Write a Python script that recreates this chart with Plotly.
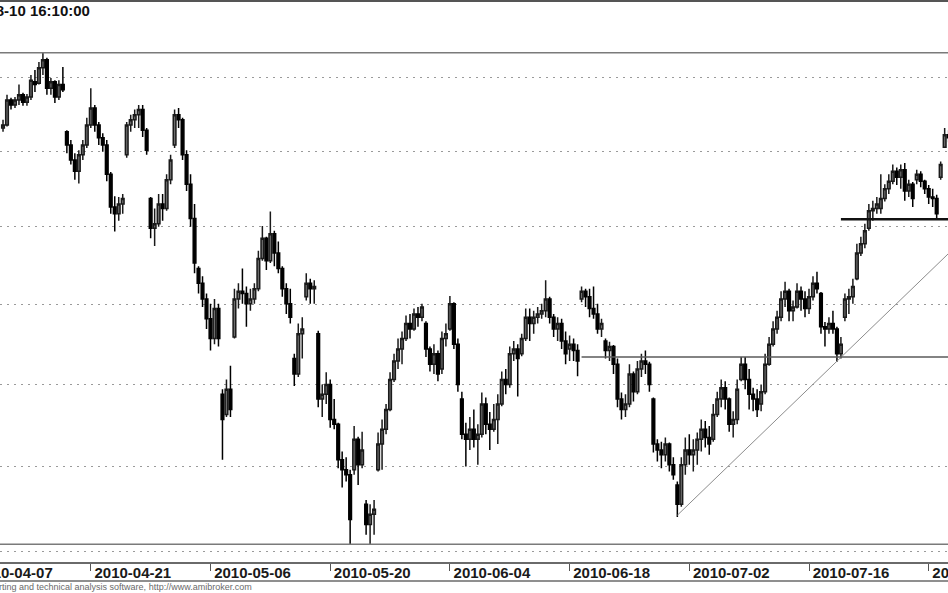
import math
import pandas as pd
import plotly.graph_objects as go

# ---- data -------------------------------------------------------------
# Warsaw trading days shown (holidays 2010-05-03 and 2010-06-03 excluded)
trading_days = [d.strftime("%Y-%m-%d") for d in pd.bdate_range(
    "2010-04-09", "2010-08-02", freq="C", holidays=["2010-05-03", "2010-06-03"])]
sessions = ["09:00", "11:30", "14:00"]
bar_times = [f"{d} {s}" for d in trading_days for s in sessions][2:]

opens = [39.31,
    39.35, 39.69, 39.62,  39.69, 39.76, 39.66,  39.73, 39.94, 39.92,  40.13, 40.24, 39.85,
    39.94, 39.73, 39.90,  39.26, 39.08, 38.88,  38.73, 38.95, 39.08,  39.35, 39.58, 39.35,
    39.18, 39.08, 38.69,  38.26, 38.17, 38.30,  38.95, 39.35, 39.42,  39.49, 39.56, 39.28,
    38.37, 37.98, 38.04,  38.30, 38.24, 38.62,  39.08, 39.49, 39.42,  38.95, 38.56, 38.11,
    37.46, 37.27, 37.07,  36.82, 36.57, 36.95,  35.88, 35.63, 35.94,  36.59, 37.07, 37.17,
    37.14, 37.01, 37.07,  37.20, 37.59, 37.85,  37.56, 37.91, 37.66,  37.46, 37.20, 37.01,
    36.32, 36.13, 36.63,  37.10, 37.27, 37.20,  36.63, 35.82, 35.88,  36.00, 35.57, 35.51,
    35.08, 34.96, 34.90,  34.96, 35.33, 35.02,  34.55, 34.31, 34.43,  34.96, 35.27, 35.45,
    35.69, 36.06, 36.29,  36.44, 36.57, 36.76,  36.69, 36.88, 36.84,  36.76, 36.44, 36.25,
    36.38, 36.19, 36.57,  36.69, 37.01, 36.50,  35.82, 35.39, 35.33,  35.45, 35.33, 35.39,
    35.76, 35.51, 35.45,  35.57, 35.76, 36.06,  36.00, 36.38, 36.44,  36.38, 36.57, 36.84,
    36.76, 36.84, 36.88,  36.92, 37.07, 36.84,  36.69, 36.76, 36.54,  36.44, 36.50, 36.42,
    37.07, 37.17, 37.10,  36.95, 36.88, 36.69,  36.54, 36.42, 36.47,  36.25, 35.82, 35.69,
    35.76, 36.13, 35.91,  36.19, 36.29, 36.25,  35.82, 35.27, 35.20,  35.14, 35.27, 35.02,
    34.78, 34.55, 35.02,  35.20, 35.14, 35.20,  35.33, 35.45, 35.35,  35.33, 35.63, 35.82,
    35.96, 35.82, 35.51,  35.57, 36.06, 36.25,  36.06, 35.88, 35.82,  35.76, 35.91, 36.25,
    36.50, 36.69, 36.84,  37.07, 37.17, 36.92,  36.97, 37.17, 37.07,  36.95, 37.10, 37.27,
    37.14, 36.72, 36.69,  36.76, 36.69, 36.38,  36.84, 37.07, 37.10,  37.33, 37.66, 37.78,
    37.98, 38.21, 38.24,  38.24, 38.37, 38.50,  38.60, 38.73, 38.65,  38.75, 38.47, 38.56,
    38.62, 38.69, 38.60,  38.50, 38.39, 38.37,  38.65, 39.05, 39.22]
highs = [39.42,
    39.76, 39.72, 39.73,  39.90, 39.79, 39.77,  40.03, 40.10, 40.21,  40.34, 40.27, 39.99,
    39.96, 39.96, 40.14,  39.28, 39.15, 38.97,  39.01, 39.15, 39.45,  39.85, 39.62, 39.39,
    39.24, 39.15, 38.72,  38.40, 38.39, 38.43,  39.39, 39.49, 39.56,  39.62, 39.62, 39.31,
    38.39, 38.24, 38.43,  38.43, 38.69, 38.95,  39.56, 39.58, 39.45,  39.01, 38.69, 38.30,
    37.49, 37.36, 37.14,  37.01, 37.07, 37.01,  35.94, 36.06, 36.23,  37.20, 37.27, 37.46,
    37.23, 37.20, 37.27,  37.69, 38.01, 37.87,  38.20, 37.95, 37.81,  37.49, 37.27, 37.20,
    36.38, 36.76, 36.84,  37.40, 37.33, 37.31,  36.67, 36.00, 36.15,  36.06, 35.82, 35.53,
    35.18, 35.11, 34.96,  35.49, 35.36, 35.42,  34.60, 34.55, 34.60,  35.41, 35.57, 35.76,
    36.15, 36.38, 36.57,  36.66, 36.86, 36.88,  36.95, 36.97, 37.01,  36.79, 36.47, 36.50,
    36.42, 36.66, 36.76,  37.11, 37.03, 36.57,  35.91, 35.53, 35.60,  35.69, 35.51, 35.90,
    35.84, 35.66, 35.76,  35.88, 36.16, 36.19,  36.47, 36.54, 36.50,  36.63, 36.95, 36.95,
    36.92, 36.97, 37.01,  37.31, 37.10, 36.88,  36.84, 36.82, 36.66,  36.61, 36.57, 36.50,
    37.23, 37.20, 37.20,  37.23, 37.01, 36.82,  36.57, 36.53, 36.49,  36.32, 35.90, 35.88,
    36.25, 36.16, 36.29,  36.38, 36.42, 36.28,  35.84, 35.33, 35.30,  35.35, 35.29, 35.11,
    34.82, 35.11, 35.35,  35.39, 35.33, 35.41,  35.57, 35.55, 35.49,  35.76, 35.91, 36.06,
    36.04, 35.84, 35.67,  36.06, 36.34, 36.34,  36.19, 35.96, 35.94,  36.00, 36.38, 36.59,
    36.79, 36.92, 37.17,  37.29, 37.20, 37.05,  37.27, 37.23, 37.17,  37.20, 37.36, 37.42,
    37.16, 36.78, 36.84,  36.92, 36.72, 36.59,  37.14, 37.20, 37.33,  37.78, 37.87, 38.04,
    38.30, 38.34, 38.39,  38.69, 38.56, 38.69,  38.82, 38.78, 38.82,  38.84, 38.62, 38.59,
    38.75, 38.73, 38.62,  38.55, 38.50, 38.42,  38.86, 39.31, 39.28]
lows = [39.26,
    39.33, 39.56, 39.58,  39.62, 39.61, 39.61,  39.69, 39.80, 39.90,  40.03, 39.76, 39.76,
    39.65, 39.69, 39.80,  38.97, 38.82, 38.62,  38.57, 38.88, 39.04,  39.31, 39.26, 39.08,
    38.99, 38.60, 38.17,  37.94, 38.08, 38.17,  38.91, 39.26, 39.31,  39.31, 39.19, 38.95,
    37.85, 37.75, 38.00,  38.08, 38.21, 38.56,  39.04, 39.31, 38.88,  38.47, 38.00, 37.40,
    37.14, 36.97, 36.69,  36.42, 36.50, 36.47,  35.08, 35.60, 35.60,  36.57, 36.95, 37.01,
    36.72, 36.92, 37.01,  37.17, 37.56, 37.44,  37.53, 37.49, 37.40,  37.10, 36.88, 36.76,
    35.98, 36.09, 36.32,  37.05, 37.01, 37.01,  35.72, 35.60, 35.76,  35.47, 35.45, 34.98,
    34.75, 34.82, 34.08,  34.90, 34.78, 34.98,  34.19, 34.08, 34.19,  34.94, 34.96, 35.39,
    35.67, 36.03, 36.19,  36.25, 36.54, 36.57,  36.67, 36.72, 36.79,  36.34, 36.16, 36.13,
    36.04, 36.13, 36.47,  36.67, 36.44, 35.91,  35.33, 35.00, 35.20,  35.23, 35.02, 35.35,
    35.39, 35.20, 35.42,  35.27, 35.73, 35.88,  35.96, 36.29, 35.85,  36.35, 36.54, 36.54,
    36.63, 36.76, 36.82,  36.84, 36.76, 36.59,  36.54, 36.44, 36.25,  36.29, 36.29, 36.10,
    37.03, 36.97, 36.84,  36.82, 36.63, 36.59,  36.32, 36.29, 36.13,  35.72, 35.57, 35.60,
    35.72, 35.79, 35.88,  36.09, 36.13, 35.91,  35.17, 35.06, 34.98,  35.06, 34.94, 34.84,
    34.40, 34.52, 34.90,  35.02, 34.94, 35.02,  35.18, 35.23, 35.14,  35.30, 35.60, 35.72,
    35.69, 35.42, 35.35,  35.51, 36.04, 35.94,  35.69, 35.67, 35.60,  35.67, 35.88, 36.23,
    36.47, 36.63, 36.79,  36.97, 36.79, 36.79,  36.95, 36.92, 36.84,  36.88, 37.05, 37.14,
    36.63, 36.47, 36.63,  36.63, 36.28, 36.32,  36.79, 36.88, 37.01,  37.31, 37.62, 37.72,
    37.95, 38.08, 38.17,  38.17, 38.33, 38.43,  38.56, 38.55, 38.50,  38.34, 38.39, 38.26,
    38.56, 38.52, 38.43,  38.30, 38.26, 38.11,  38.62, 39.04, 39.12]
closes = [39.35,
    39.69, 39.62, 39.69,  39.76, 39.66, 39.73,  39.96, 39.90, 40.13,  40.24, 39.85, 39.94,
    39.73, 39.90, 39.83,  39.08, 38.88, 38.73,  38.95, 39.08, 39.35,  39.58, 39.35, 39.18,
    39.08, 38.69, 38.26,  38.17, 38.30, 38.37,  39.35, 39.42, 39.49,  39.56, 39.28, 39.01,
    37.98, 38.04, 38.30,  38.24, 38.62, 38.88,  39.49, 39.42, 38.95,  38.56, 38.11, 37.53,
    37.27, 37.07, 36.82,  36.57, 36.95, 36.57,  35.57, 35.94, 35.69,  37.07, 37.17, 37.14,
    37.01, 37.07, 37.20,  37.59, 37.85, 37.56,  37.91, 37.66, 37.46,  37.20, 37.01, 36.84,
    36.13, 36.63, 36.69,  37.27, 37.20, 37.23,  35.82, 35.88, 36.00,  35.57, 35.51, 35.08,
    34.96, 34.90, 34.37,  35.33, 35.02, 35.20,  34.31, 34.43, 34.49,  35.27, 35.45, 35.69,
    36.06, 36.29, 36.44,  36.57, 36.76, 36.69,  36.88, 36.84, 36.97,  36.44, 36.25, 36.38,
    36.13, 36.57, 36.63,  37.01, 36.50, 36.00,  35.39, 35.33, 35.45,  35.33, 35.39, 35.76,
    35.51, 35.45, 35.57,  35.76, 36.06, 36.00,  36.38, 36.44, 36.32,  36.57, 36.84, 36.76,
    36.84, 36.88, 36.92,  37.07, 36.84, 36.69,  36.76, 36.54, 36.38,  36.50, 36.42, 36.29,
    37.17, 37.10, 36.95,  36.88, 36.69, 36.76,  36.42, 36.47, 36.25,  35.82, 35.69, 35.76,
    36.13, 35.91, 36.19,  36.29, 36.25, 36.00,  35.27, 35.20, 35.14,  35.27, 35.02, 34.90,
    34.55, 35.02, 35.20,  35.14, 35.20, 35.33,  35.45, 35.35, 35.27,  35.63, 35.82, 35.96,
    35.82, 35.51, 35.57,  35.94, 36.25, 36.06,  35.88, 35.82, 35.69,  35.91, 36.25, 36.50,
    36.69, 36.84, 37.07,  37.17, 36.92, 36.97,  37.17, 37.07, 36.95,  37.10, 37.27, 37.20,
    36.72, 36.69, 36.76,  36.69, 36.38, 36.50,  37.07, 37.10, 37.23,  37.66, 37.78, 37.95,
    38.21, 38.24, 38.30,  38.37, 38.50, 38.60,  38.73, 38.65, 38.75,  38.47, 38.56, 38.37,
    38.69, 38.60, 38.50,  38.39, 38.37, 38.17,  38.82, 39.22, 39.18]

# drawn study lines
range_high = 40.34
range_low = 34.08
support_level = 36.34
support_start = "2010-06-21 09:00"
resistance_level = 38.10
resistance_start = "2010-07-20 14:00"
trend_start = "2010-07-01 09:00"
trend_start_price = 34.42
trend_end_price = 37.655

grid_levels = [34, 35, 36, 37, 38, 39, 40]
tick_dates = ["2010-04-21", "2010-05-06", "2010-05-20", "2010-06-04",
              "2010-06-18", "2010-07-02", "2010-07-16", "2010-07-30"]
first_date_label = "2010-04-07"
title_text = "2010-08-10 16:10:00"
footer_text = "AmiBroker - advanced charting and technical analysis software, http://www.amibroker.com"

assert len(bar_times) == len(opens) == len(highs) == len(lows) == len(closes)

# ---- figure -----------------------------------------------------------
W, H = 948, 593
PLOT_H = 562

fig = go.Figure()
fig.add_trace(go.Candlestick(
    x=bar_times, open=opens, high=highs, low=lows, close=closes,
    increasing=dict(line=dict(color="#1a1a1a", width=1.5), fillcolor="#6e6e6e"),
    decreasing=dict(line=dict(color="#000000", width=1.5), fillcolor="#000000"),
    whiskerwidth=0, hoverinfo="skip"))

fig.add_trace(go.Scatter(x=[trend_start, bar_times[-1]],
                         y=[trend_start_price, trend_end_price],
                         mode="lines", line=dict(color="#8c8c8c", width=1), hoverinfo="skip"))
fig.add_trace(go.Scatter(x=[support_start, bar_times[-1]],
                         y=[support_level, support_level],
                         mode="lines", line=dict(color="#5a5a5a", width=1.5), hoverinfo="skip"))
fig.add_trace(go.Scatter(x=[resistance_start, bar_times[-1]],
                         y=[resistance_level, resistance_level],
                         mode="lines", line=dict(color="#111111", width=2.5), hoverinfo="skip"))

for lvl in (range_high, range_low):
    fig.add_shape(type="line", xref="paper", x0=0, x1=1, yref="y", y0=lvl, y1=lvl,
                  line=dict(color="#7a7a7a", width=1.5))

# top border of the pane and bottom border of the date panel
fig.add_shape(type="line", xref="paper", x0=0, x1=1, yref="paper",
              y0=1 - 1 / PLOT_H, y1=1 - 1 / PLOT_H, line=dict(color="#555555", width=2))
fig.add_shape(type="line", xref="paper", x0=0, x1=1, yref="paper",
              y0=-(581 - PLOT_H) / PLOT_H, y1=-(581 - PLOT_H) / PLOT_H,
              line=dict(color="#6a6a6a", width=1.5))

label_font = dict(family="Liberation Sans, Arial, sans-serif", size=15,
                  color="#1a1a1a", weight="bold")

fig.add_annotation(text=first_date_label, xref="paper", yref="paper",
                   x=(-28.9 + 3) / W, y=-(572 - PLOT_H) / PLOT_H,
                   xanchor="left", yanchor="middle", showarrow=False, font=label_font)
fig.add_annotation(text=title_text, xref="paper", yref="paper",
                   x=92 / W, y=(PLOT_H - 11) / PLOT_H, xanchor="right", yanchor="middle",
                   showarrow=False,
                   font=dict(family="Liberation Sans, Arial, sans-serif", size=15,
                             color="#111111", weight="bold"))
fig.add_annotation(text=footer_text, xref="paper", yref="paper",
                   x=254 / W, y=-(587 - PLOT_H) / PLOT_H, xanchor="right", yanchor="middle",
                   showarrow=False,
                   font=dict(family="Liberation Sans, Arial, sans-serif", size=9,
                             color="#6a6a6a"))

lo_px, hi_px = 562.0, 0.0
px_per_ln = (551.0 - 77.3) / math.log(40 / 34)
y_lo = (math.log(40) - (lo_px - 77.3) / px_per_ln) / math.log(10)
y_hi = (math.log(40) + (77.3 - hi_px) / px_per_ln) / math.log(10)

x_first_px = 3.02
bar_px = 3.99
x_lo = -x_first_px / bar_px
x_hi = (W - x_first_px) / bar_px

fig.update_layout(
    width=W, height=H,
    margin=dict(l=0, r=0, t=0, b=H - PLOT_H, autoexpand=False),
    paper_bgcolor="white", plot_bgcolor="white",
    showlegend=False,
    boxgap=0.05,
    xaxis=dict(
        type="category", categoryorder="array", categoryarray=bar_times,
        range=[x_lo, x_hi], rangeslider=dict(visible=False), automargin=False,
        showgrid=False, zeroline=False,
        showline=True, linecolor="#6a6a6a", linewidth=1.5, mirror=True,
        ticks="outside", ticklen=7, tickwidth=1, tickcolor="#555555",
        tickvals=[f"{d} {sessions[0]}" for d in tick_dates], ticktext=tick_dates,
        tickfont=label_font, ticklabelshift=42, ticklabelstandoff=-11,
        ticklabeloverflow="allow",
    ),
    yaxis=dict(
        type="log", range=[y_lo, y_hi], automargin=False,
        tickvals=grid_levels, showticklabels=False, ticks="",
        showgrid=True, gridcolor="#9a9a9a", gridwidth=1, griddash="2px,5px",
        zeroline=False, showline=False,
    ),
)

fig.write_html("out.html", config={"displayModeBar": False},
               post_script="document.body.style.margin='0';"
               "document.body.style.overflow='hidden';")
